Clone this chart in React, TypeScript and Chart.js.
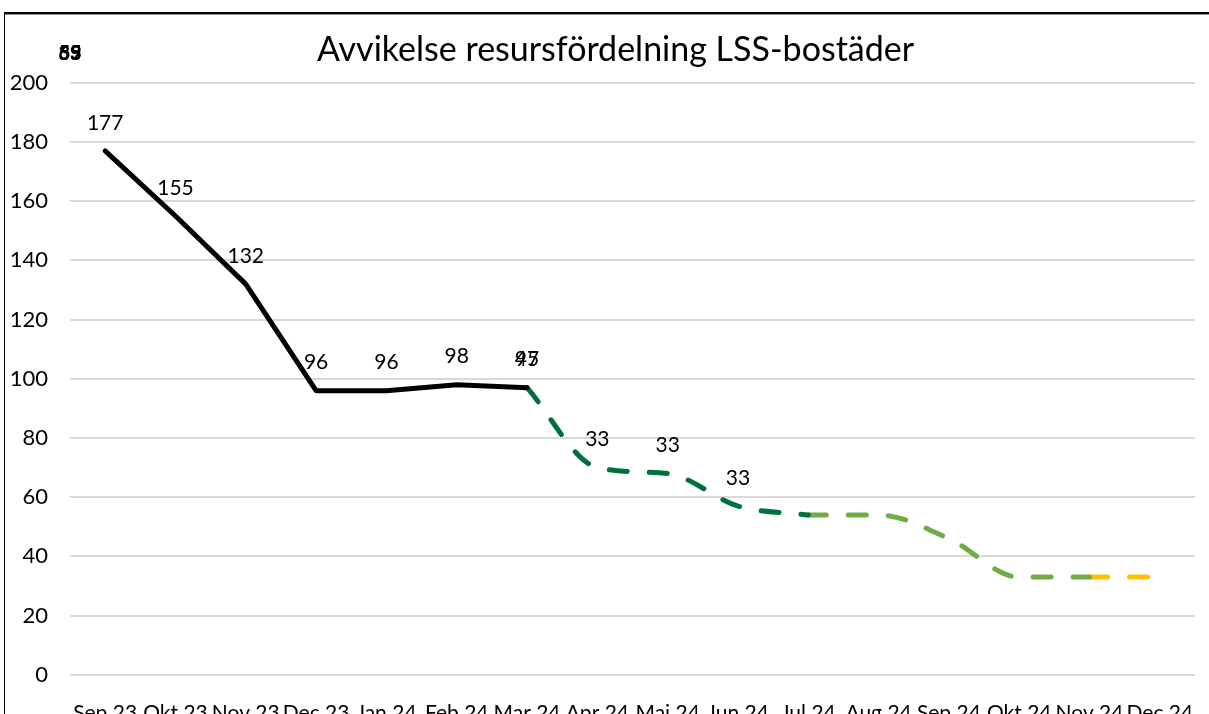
import React, { useEffect, useRef } from "react";
import { Chart, registerables } from "chart.js";

Chart.register(...registerables);

const categories = [
  "Sep 23", "Okt 23", "Nov 23", "Dec 23", "Jan 24", "Feb 24", "Mar 24", "Apr 24",
  "Mai 24", "Jun 24", "Jul 24", "Aug 24", "Sep 24", "Okt 24", "Nov 24", "Dec 24",
];

const utfall = [177, 155, 132, 96, 96, 98, 97, null, null, null, null, null, null, null, null, null];
const prognosA = [null, null, null, null, null, null, 97, 70, 68, 57, 54, null, null, null, null, null];
const prognosB = [null, null, null, null, null, null, null, null, null, null, 54, 54, 46, 33, 33, null];
const prognosC = [null, null, null, null, null, null, null, null, null, null, null, null, null, null, 33, 33];

const utfallLabels = ["177", "155", "132", "96", "96", "98", "97", null, null, null, null, null, null, null, null, null];
const prognosALabels = [null, null, null, null, null, null, "45", "33", "33", "33", null, null, null, null, null, null];
const ghostLabels = ["55", "69", "33"];

const yTicks = { min: 0, max: 200, step: 20 };

const FONT = "Lato, 'Open Sans', sans-serif";

const labelPlugin = {
  id: "pointLabels",
  afterLayout(chart: any) {
    const t = chart.titleBlock;
    if (t) {
      t.left += 18;
      t.right += 18;
    }
  },
  afterDatasetsDraw(chart: any) {
    const ctx = chart.ctx;
    ctx.save();
    ctx.font = `21px ${FONT}`;
    ctx.fillStyle = "#000";
    ctx.textAlign = "center";
    ctx.textBaseline = "middle";
    chart.data.datasets.forEach((ds: any, i: number) => {
      const labels = ds.pointLabels;
      if (!labels) return;
      const meta = chart.getDatasetMeta(i);
      labels.forEach((lab: string | null, j: number) => {
        if (lab == null) return;
        const el = meta.data[j];
        if (!el) return;
        ctx.fillText(lab, el.x, el.y - 28);
      });
    });
    const { left, top } = chart.chartArea;
    ctx.font = `bold 20px ${FONT}`;
    ghostLabels.forEach((g) => {
      ctx.fillText(g, left, top - 29);
    });
    ctx.restore();
  },
};

export default function App() {
  const ref = useRef<HTMLCanvasElement>(null);

  useEffect(() => {
    document.body.style.margin = "0";
    const canvas = ref.current!;
    const dashed = (color: string, data: (number | null)[], labels?: (string | null)[]) => ({
      data,
      borderColor: color,
      backgroundColor: color,
      borderWidth: 5,
      borderDash: [18, 22],
      borderCapStyle: "round" as const,
      borderJoinStyle: "round" as const,
      pointRadius: 0,
      cubicInterpolationMode: "monotone" as const,
      spanGaps: false,
      pointLabels: labels,
    });
    const chart = new Chart(canvas, {
      type: "line",
      data: {
        labels: categories,
        datasets: [
          {
            data: utfall,
            borderColor: "#000000",
            backgroundColor: "#000000",
            borderWidth: 5,
            borderCapStyle: "round",
            borderJoinStyle: "round",
            pointRadius: 0,
            tension: 0,
            pointLabels: utfallLabels,
          } as any,
          dashed("#00703C", prognosA, prognosALabels) as any,
          dashed("#70AD47", prognosB) as any,
          dashed("#FFC000", prognosC) as any,
        ],
      },
      options: {
        responsive: false,
        animation: false,
        layout: { padding: { left: 0, right: 14, top: 0, bottom: 7 } },
        plugins: {
          legend: { display: false },
          tooltip: { enabled: false },
          title: {
            display: true,
            text: "Avvikelse resursfördelning LSS-bostäder",
            color: "#000",
            font: { family: FONT, size: 34, weight: "normal" },
            padding: { top: 30, bottom: 12 },
          },
        },
        scales: {
          x: {
            offset: true,
            grid: { display: false, drawTicks: false },
            border: { display: false },
            ticks: {
              color: "#000",
              font: { family: FONT, size: 21 },
              padding: 26,
              autoSkip: false,
              maxRotation: 0,
              minRotation: 0,
            },
            afterFit(scale: any) {
              scale.paddingLeft = 0;
              scale.paddingRight = 0;
            },
          },
          y: {
            min: yTicks.min,
            max: yTicks.max,
            grid: { color: "#D9D9D9", lineWidth: 2, drawTicks: false },
            border: { display: false },
            ticks: {
              stepSize: yTicks.step,
              color: "#000",
              font: { family: FONT, size: 22 },
              padding: 22,
            },
            afterFit(scale: any) {
              scale.width = 70;
            },
          },
        },
      } as any,
      plugins: [labelPlugin],
    });
    return () => chart.destroy();
  }, []);

  return (
    <div style={{ position: "fixed", left: 0, top: 0, width: 1209, height: 714, overflow: "hidden", background: "#fff" }}>
      <canvas ref={ref} width={1209} height={759} style={{ position: "absolute", left: 0, top: 0 }} />
      <div
        style={{
          position: "absolute",
          left: 4,
          top: 12,
          width: 1400,
          height: 900,
          borderLeft: "1.5px solid #000",
          borderTop: "2px solid #000",
          boxShadow: "inset 0 1px 0 #999",
          pointerEvents: "none",
        }}
      />
    </div>
  );
}
